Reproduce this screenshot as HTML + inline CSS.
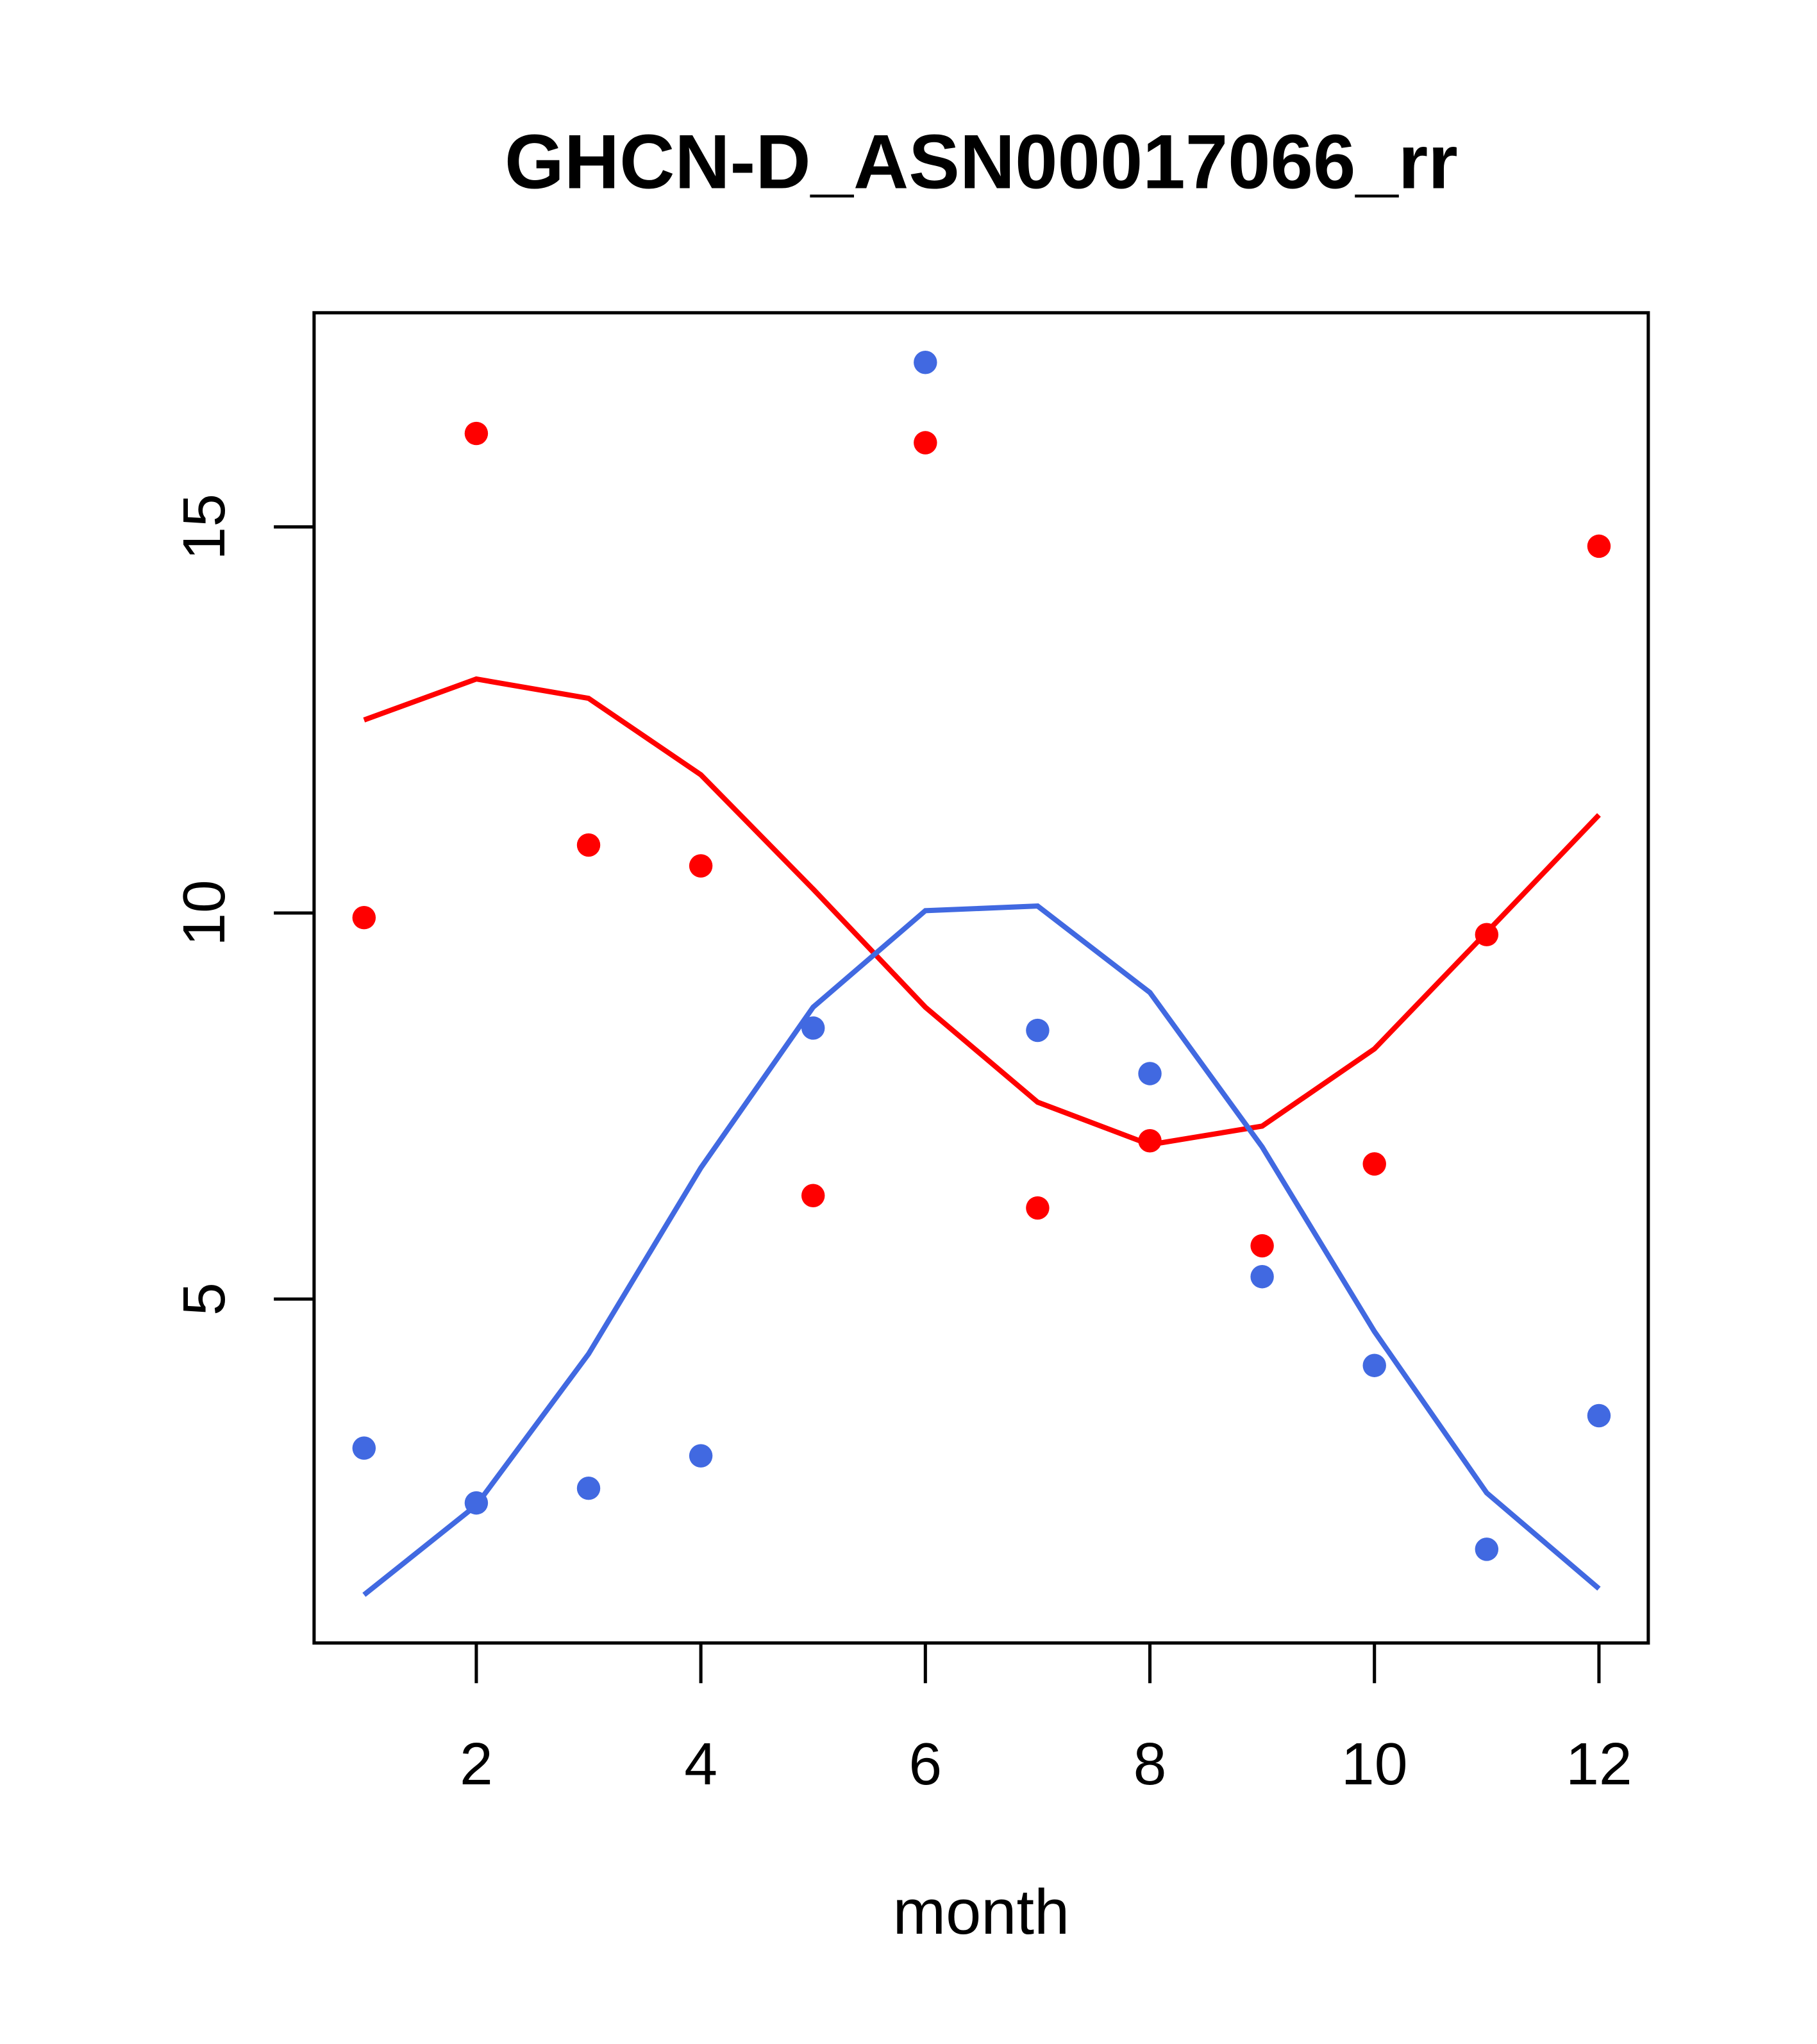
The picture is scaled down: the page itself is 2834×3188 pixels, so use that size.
<!DOCTYPE html>
<html><head><meta charset="utf-8"><style>
html,body{margin:0;padding:0;background:#fff;}
svg{display:block;}
text{font-family:"Liberation Sans",sans-serif;fill:#000;}
</style></head>
<body>
<svg id="chart" width="2834" height="3188" viewBox="0 0 1400 1575" preserveAspectRatio="none" xmlns="http://www.w3.org/2000/svg">
<text x="756" y="145" font-size="59" font-weight="bold" text-anchor="middle">GHCN-D_ASN00017066_rr</text>
<rect x="242" y="241" width="1028" height="1025" fill="none" stroke="#000" stroke-width="2.5"/>
<g id="xaxis"></g>
<g id="yaxis"></g>
<g id="series"></g>
<text x="756" y="1490" font-size="49" text-anchor="middle">month</text>
</svg>
<script>
const months = [1,2,3,4,5,6,7,8,9,10,11,12];
const redPoints = [9.94,16.21,10.88,10.61,6.34,16.09,6.18,7.05,5.69,6.75,9.72,14.75];
const redLine = [12.50,13.03,12.78,11.79,10.31,8.78,7.55,7.00,7.24,8.24,9.75,11.27];
const bluePoints = [3.07,2.36,2.55,2.97,8.51,17.13,8.48,7.92,5.29,4.14,1.76,3.49];
const blueLine = [1.17,2.33,4.29,6.70,8.78,10.03,10.09,8.97,6.97,4.58,2.49,1.25];
const xTicks = [2,4,6,8,10,12];
const yTicks = [5,10,15];

const NS = "http://www.w3.org/2000/svg";
function xs(m){ return 280.5 + (m-1)*86.5; }
function ys(v){ return 1298.5 - v*59.5; }
function mk(tag, attrs, parent){ const e=document.createElementNS(NS,tag); for(const k in attrs) e.setAttribute(k,attrs[k]); parent.appendChild(e); return e; }

const xa=document.getElementById('xaxis');
xTicks.forEach(t=>{
  const l=mk('line',{x1:xs(t),x2:xs(t),y1:1266,y2:1297,stroke:'#000','stroke-width':2.5},xa);
  
  
  const tx=mk('text',{x:xs(t),y:1375,'font-size':46,'text-anchor':'middle'},xa);
  tx.textContent=t;
  
  
});
const ya=document.getElementById('yaxis');
yTicks.forEach(t=>{
  const l=mk('line',{x1:211,x2:242,y1:ys(t),y2:ys(t),stroke:'#000','stroke-width':2.5},ya);
  
  
  const tx=mk('text',{x:0,y:0,'font-size':46,'text-anchor':'middle',transform:`translate(173,${ys(t)}) rotate(-90)`},ya);
  tx.textContent=t;
  
  
});
const sg=document.getElementById('series');
function line(vals,color,name){
  const p=mk('polyline',{points:vals.map((v,i)=>xs(months[i])+','+ys(v)).join(' '),fill:'none',stroke:color,'stroke-width':4},sg);
  
  
}
function pts(vals,color,name){
  vals.forEach((v,i)=>{
    const c=mk('circle',{cx:xs(months[i]),cy:ys(v),r:9,fill:color},sg);
    
    
  });
}
line(redLine,'#ff0000','red-line');
line(blueLine,'#4169e1','blue-line');
pts(redPoints,'#ff0000','red-point');
pts(bluePoints,'#4169e1','blue-point');
</script>
</body></html>
